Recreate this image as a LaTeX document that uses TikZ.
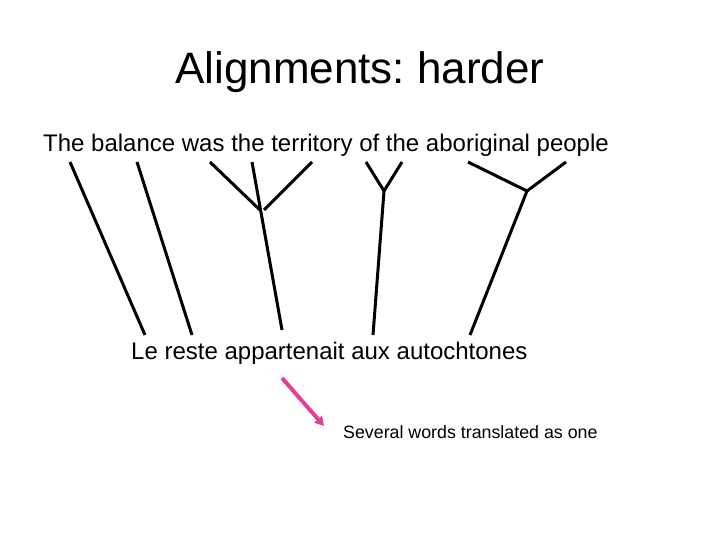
\documentclass[tikz,border=0pt]{standalone}
\usepackage{fontspec}
\setmainfont{Liberation Sans}
\usetikzlibrary{arrows.meta}
\definecolor{pinkarrow}{RGB}{228,64,150}
\frenchspacing
\begin{document}
\begin{tikzpicture}[x=1pt,y=-1pt,
  align/.style={line width=3pt,line cap=butt},
  txt/.style={inner sep=0pt,anchor=base west}]
\useasboundingbox (0,0) rectangle (720,540);
\node[inner sep=0pt,anchor=base] (title) at (360,84) {\fontsize{44}{48}\selectfont Alignments: harder};
\node[txt] (en) at (43,152) {\fontsize{24}{28}\selectfont The balance was the territory of the aboriginal people};
\node[txt] (fr) at (131,359) {\fontsize{24}{28}\selectfont Le reste appartenait aux autochtones};
\node[txt] (note) at (343,438) {\fontsize{17.8}{20}\selectfont Several words translated as one};
% endpoints
\coordinate (t1) at (70,162);   \coordinate (b1) at (145,335);
\coordinate (t2) at (137,162);  \coordinate (b2) at (192,335);
\coordinate (t3a) at (210,162); \coordinate (j3a) at (260,210);
\coordinate (t3b) at (252,162); \coordinate (b3) at (282,330);
\coordinate (t3c) at (312,162); \coordinate (j3c) at (264,210);
\coordinate (t4a) at (366,162); \coordinate (t4b) at (402,162);
\coordinate (j4) at (384,191);  \coordinate (b4) at (373,335);
\coordinate (t5a) at (468,162); \coordinate (t5b) at (566,162);
\coordinate (j5) at (527,191);  \coordinate (b5) at (470,335);
\draw[align] (t1) -- (b1);
\draw[align] (t2) -- (b2);
\draw[align] (t3a) -- (j3a);
\draw[align] (t3b) -- (b3);
\draw[align] (t3c) -- (j3c);
\draw[align] (t4a) -- (j4) -- (t4b);
\draw[align] (j4) -- (b4);
\draw[align] (t5a) -- (j5) -- (t5b);
\draw[align] (j5) -- (b5);
\coordinate (p1) at (282,378);
\coordinate (p2) at (324,426);
\draw[pinkarrow,line width=4pt,-{Triangle[length=9pt,width=10pt]}] (p1) -- (p2);
\end{tikzpicture}
\end{document}
